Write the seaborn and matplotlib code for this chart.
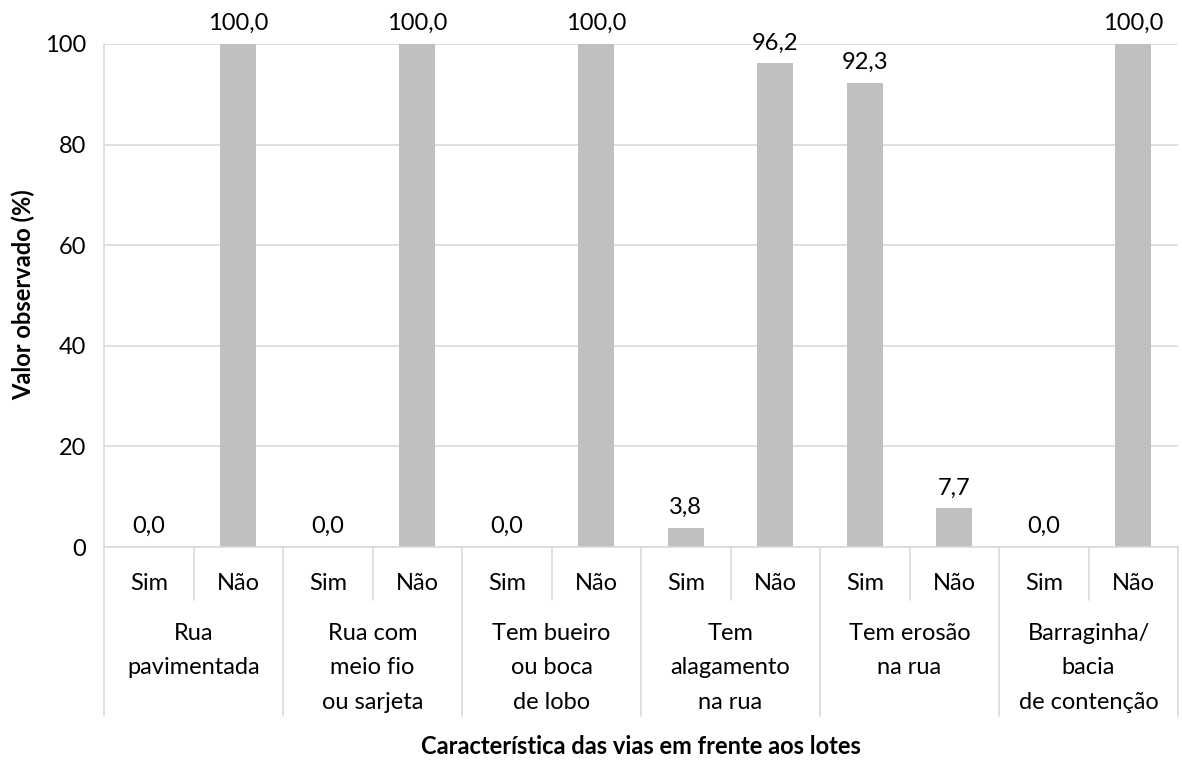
import matplotlib
matplotlib.use("Agg")
import matplotlib.pyplot as plt
import matplotlib.transforms as mtransforms
import seaborn as sns
import pandas as pd

groups = ["Rua\npavimentada", "Rua com\nmeio fio\nou sarjeta", "Tem bueiro\nou boca\nde lobo",
          "Tem\nalagamento\nna rua", "Tem erosão\nna rua", "Barraginha/\nbacia\nde contenção"]
answers = ["Sim", "Não"]
sim_values = [0.0, 0.0, 0.0, 3.8, 92.3, 0.0]
nao_values = [100.0, 100.0, 100.0, 96.2, 7.7, 100.0]
y_ticks = [0, 20, 40, 60, 80, 100]
x_title = "Característica das vias em frente aos lotes"
y_title = "Valor observado (%)"

rows = []
for g, s, n in zip(groups, sim_values, nao_values):
    rows.append({"key": g + "|Sim", "group": g, "answer": "Sim", "value": s})
    rows.append({"key": g + "|Não", "group": g, "answer": "Não", "value": n})
df = pd.DataFrame(rows)
order = list(df["key"])

sns.set_theme(style="white")
plt.rcParams["font.family"] = ["Lato", "DejaVu Sans"]
FS = 17
TXT = "#000000"
GRID = "#D9D9D9"
BAR = "#BFBFBF"

fig = plt.figure(figsize=(11.82, 7.69), dpi=100)
ax = fig.add_axes([104 / 1182, 1 - 547 / 769, (1178 - 104) / 1182, (547 - 44) / 769])

sns.barplot(data=df, x="key", y="value", order=order, color=BAR, width=0.4,
            saturation=1, ax=ax, edgecolor="none")

ax.set_ylim(0, 100)
ax.set_xlim(-0.5, len(order) - 0.5)
ax.set_yticks(y_ticks)
ax.set_yticklabels([str(t) for t in y_ticks], fontsize=FS, color=TXT)
ax.tick_params(axis="y", length=0, pad=13)
ax.set_xticks([])
ax.set_xlabel("")
ax.set_ylabel("")
ax.yaxis.grid(True, color=GRID, linewidth=1.2)
ax.set_axisbelow(True)
for side in ["top", "right"]:
    ax.spines[side].set_visible(False)
for side in ["left", "bottom"]:
    ax.spines[side].set_color(GRID)
    ax.spines[side].set_linewidth(1.2)

labels = [f"{v:.1f}".replace(".", ",") for v in df["value"]]
ax.bar_label(ax.containers[0], labels=labels, padding=7, fontsize=FS, color=TXT)

trans = mtransforms.blended_transform_factory(ax.transData, ax.transAxes)
ax_h = 547 - 44
sep_short = -(600 - 547) / ax_h
sep_long = -(716 - 547) / ax_h
for i in range(len(order) + 1):
    x = i - 0.5
    y_end = sep_long if i % 2 == 0 else sep_short
    ax.plot([x, x], [0, y_end], transform=trans, color=GRID, linewidth=1.2, clip_on=False)

for i, a in enumerate(df["answer"]):
    ax.text(i, -(583 - 547) / ax_h, a, transform=trans, ha="center", va="center",
            fontsize=FS, color=TXT)
for gi, g in enumerate(groups):
    ax.text(2 * gi + 0.5, -(623 - 547) / ax_h, g, transform=trans, ha="center", va="top",
            fontsize=FS, color=TXT, linespacing=1.78)

fig.text((104 + 1178) / 2 / 1182, 1 - 747 / 769, x_title, ha="center", va="center",
         fontsize=FS, fontweight="bold", color=TXT)
fig.text(23 / 1182, 1 - 295 / 769, y_title, ha="center", va="center", rotation=90,
         fontsize=FS, fontweight="bold", color=TXT)

fig.savefig("out.png", dpi=100)
